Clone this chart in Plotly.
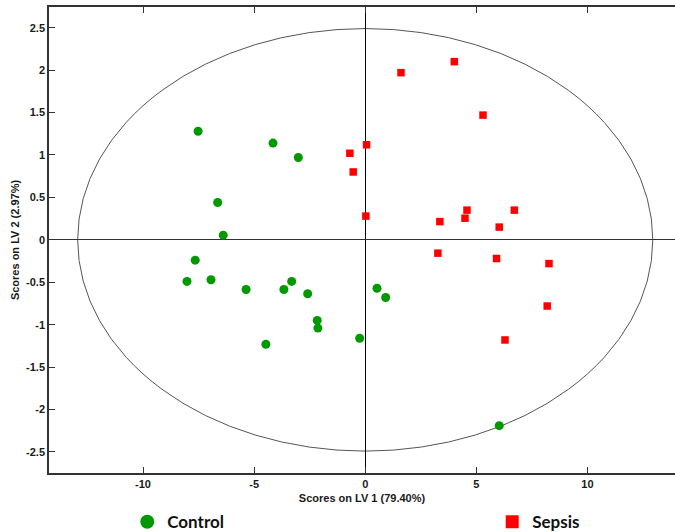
import plotly.graph_objects as go

# Control group scores (LV1, LV2)
control_lv1 = [-7.52, -4.15, -3.01, -6.64, -6.39, -7.65, -8.02, -6.94, -5.36, -3.66,
               -3.31, -2.59, -2.16, -2.13, -4.47, 0.53, 0.92, -0.25, 6.03]
control_lv2 = [1.28, 1.14, 0.97, 0.44, 0.055, -0.24, -0.49, -0.47, -0.585, -0.585,
               -0.49, -0.636, -0.95, -1.04, -1.23, -0.57, -0.68, -1.16, -2.19]

# Sepsis group scores (LV1, LV2)
sepsis_lv1 = [4.01, 1.61, 5.30, 0.06, -0.69, -0.54, 0.03, 4.58, 6.71, 3.36,
              4.49, 6.03, 3.27, 5.91, 8.27, 8.19, 6.29]
sepsis_lv2 = [2.10, 1.97, 1.47, 1.12, 1.02, 0.80, 0.28, 0.35, 0.35, 0.215,
              0.255, 0.15, -0.157, -0.22, -0.28, -0.78, -1.18]

# Confidence ellipse semi-axes
ellipse_a = 12.94
ellipse_b = 2.49

x_ticks = [-10, -5, 0, 5, 10]
y_ticks = [-2.5, -2, -1.5, -1, -0.5, 0, 0.5, 1, 1.5, 2, 2.5]

GREEN = "#009a00"
RED = "#ff0000"

fig = go.Figure()

fig.add_trace(go.Scatter(
    x=control_lv1, y=control_lv2, mode="markers", name="Control", showlegend=False,
    marker=dict(symbol="circle", size=9, color=GREEN, line=dict(width=0)),
))
fig.add_trace(go.Scatter(
    x=sepsis_lv1, y=sepsis_lv2, mode="markers", name="Sepsis", showlegend=False,
    marker=dict(symbol="square", size=7.5, color=RED, line=dict(width=0)),
))
# legend entries with larger symbols
fig.add_trace(go.Scatter(
    x=[None], y=[None], mode="markers", name="Control", legend="legend",
    marker=dict(symbol="circle", size=14, color=GREEN),
))
fig.add_trace(go.Scatter(
    x=[None], y=[None], mode="markers", name="Sepsis", legend="legend2",
    marker=dict(symbol="square", size=13, color=RED),
))

fig.add_shape(
    type="circle", xref="x", yref="y",
    x0=-ellipse_a, x1=ellipse_a, y0=-ellipse_b, y1=ellipse_b,
    line=dict(color="#555555", width=1), layer="below",
)

tick_font = dict(family="Arial, Liberation Sans", size=11, color="#1a1a1a", weight="bold")
title_font = dict(family="Arial, Liberation Sans", size=11, color="#1a1a1a", weight="bold")
legend_font = dict(family="Lato", size=17, color="#111111", weight="bold")

fig.update_layout(
    width=675, height=532,
    margin=dict(l=49, r=0, t=7, b=59, autoexpand=False),
    paper_bgcolor="white", plot_bgcolor="white",
    showlegend=True,
    legend=dict(
        orientation="h", x=0.125, y=-0.067, xanchor="left", yanchor="top",
        font=legend_font, itemsizing="trace", bgcolor="rgba(0,0,0,0)",
    ),
    legend2=dict(
        orientation="h", x=0.708, y=-0.067, xanchor="left", yanchor="top",
        font=legend_font, itemsizing="trace", bgcolor="rgba(0,0,0,0)",
    ),
    xaxis=dict(
        range=[-14.23, 13.94], tickvals=x_ticks, ticktext=[str(v) for v in x_ticks],
        showgrid=False, zeroline=True, zerolinecolor="#000000", zerolinewidth=1,
        showline=True, linecolor="#333333", linewidth=1.5, mirror="ticks",
        ticks="inside", ticklen=6, tickcolor="#333333", tickfont=tick_font,
        automargin=True,
        title=dict(text="Scores on LV 1 (79.40%)", font=title_font, standoff=5),
    ),
    yaxis=dict(
        range=[-2.748, 2.744], tickvals=y_ticks,
        ticktext=[("%g" % v) for v in y_ticks],
        showgrid=False, zeroline=True, zerolinecolor="#333333", zerolinewidth=1,
        showline=True, linecolor="#333333", linewidth=1.5, mirror=False,
        ticks="inside", ticklen=6, tickcolor="#333333", tickfont=tick_font,
        automargin=True,
        title=dict(text="Scores on LV 2 (2.97%)", font=title_font, standoff=4),
    ),
)

# remove the default page margin so the figure sits at the window's corner
fig.write_html(
    "out.html",
    config={"displayModeBar": False},
    post_script="document.body.style.margin='0';",
)
